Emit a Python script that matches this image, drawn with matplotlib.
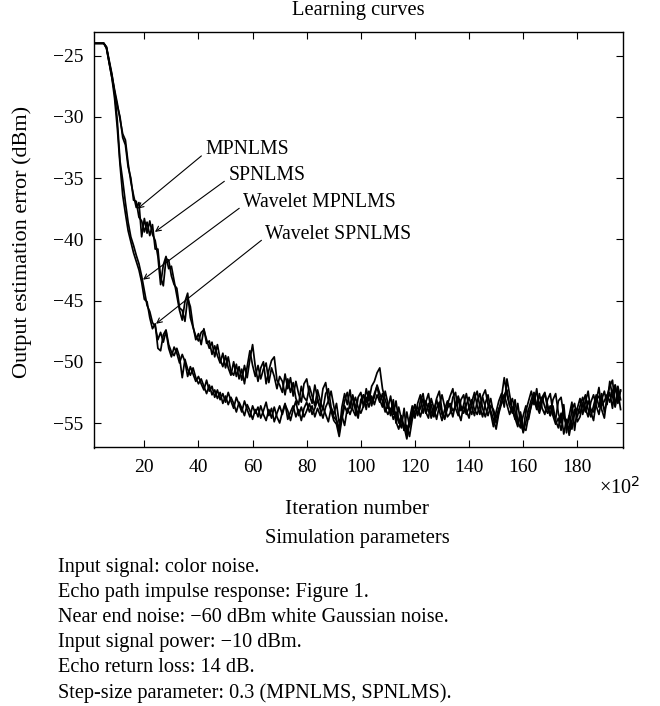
import numpy as np
import matplotlib.pyplot as plt

plt.rcParams['font.family'] = ['Liberation Serif', 'DejaVu Serif']
plt.rcParams['font.size'] = 14

# iteration index (x 10^2)
iters = np.arange(1, 197)

"""Learning curves read off the figure, one value per 100 iterations"""
mpnlms = [
    -24, -24, -24, -24, -24, -24.3, -25.5, -26.6, -27.8, -28.9,
    -30.2, -31.4, -31.9, -33.8, -35.3, -36.4, -37.4, -37.0, -39.8, -38.3,
    -39.5, -38.5, -39.6, -40.1, -41.4, -43.7, -42.1, -41.4, -42.4, -42.2,
    -43.4, -44.6, -45.8, -46.6, -45.1, -44.4, -46.4, -47.2, -47.9, -48.3,
    -47.6, -47.4, -48.2, -48.9, -48.4, -49.6, -48.6, -49.8, -50.4, -49.5,
    -50.5, -51.1, -50.0, -51.2, -50.4, -51.5, -50.3, -51.3, -49.8, -48.6,
    -50.4, -51.6, -50.5, -50.0, -51.8, -50.7, -49.9, -49.6, -51.5, -51.9,
    -52.5, -51.0, -52.2, -51.3, -52.8, -51.6, -52.6, -53.3, -51.8, -51.4,
    -52.7, -53.4, -51.9, -53.0, -53.8, -52.2, -51.7, -53.2, -52.4, -53.6,
    -54.7, -55.8, -53.7, -52.6, -53.5, -52.3, -53.9, -54.4, -52.9, -52.5,
    -53.7, -52.2, -53.2, -52.0, -51.6, -50.9, -50.5, -52.2, -53.1, -53.8,
    -52.8, -54.3, -53.2, -54.8, -55.4, -53.8, -56.0, -54.7, -53.6, -54.6,
    -53.4, -52.7, -54.2, -53.3, -52.6, -54.1, -54.5, -53.0, -52.4, -54.0,
    -54.7, -53.5, -52.8, -52.2, -53.8, -54.4, -53.1, -52.7, -54.0, -54.6,
    -53.3, -52.5, -53.6, -54.3, -52.8, -52.3, -53.5, -54.2, -55.3, -54.1,
    -53.2, -52.6, -53.7, -51.4, -52.7, -53.9, -54.7, -53.4, -55.0, -55.7,
    -54.0, -53.2, -52.4, -53.5, -52.2, -54.0, -52.9, -52.5, -53.8, -54.4,
    -53.1, -52.6, -54.2, -55.0, -53.5, -55.8, -54.4, -53.3, -55.6, -53.8,
    -53.0, -54.3, -53.3, -52.4, -54.1, -54.8, -53.2, -52.1, -53.9, -54.6,
    -52.8, -52.0, -51.5, -53.6, -52.4, -53.9,
]

spnlms = [
    -24, -24, -24, -24, -24, -24.4, -25.6, -26.8, -28.0, -29.1,
    -30.0, -31.7, -32.3, -34.1, -35.0, -36.8, -36.9, -38.2, -38.5, -39.4,
    -38.6, -39.7, -38.8, -40.8, -40.8, -43.1, -43.8, -41.6, -41.7, -43.0,
    -43.7, -44.0, -45.6, -45.8, -46.7, -44.8, -45.5, -47.1, -48.2, -47.7,
    -48.6, -47.3, -48.5, -48.3, -49.4, -48.7, -49.5, -50.1, -49.3, -50.5,
    -49.6, -50.8, -51.1, -50.2, -51.4, -50.6, -51.8, -50.4, -49.1, -50.3,
    -51.2, -50.3, -51.4, -50.6, -50.1, -51.7, -50.5, -51.2, -52.2, -51.2,
    -51.6, -52.7, -51.4, -52.5, -51.7, -53.0, -53.5, -52.0, -52.9, -53.2,
    -52.0, -52.8, -53.6, -52.3, -53.2, -53.9, -52.6, -52.2, -53.7, -54.3,
    -53.4, -55.0, -54.4, -53.2, -52.5, -53.8, -52.7, -54.0, -54.6, -53.1,
    -52.7, -53.9, -52.4, -53.6, -52.6, -52.0, -53.1, -53.7, -52.4, -53.4,
    -54.2, -53.1, -55.0, -53.7, -54.7, -55.6, -54.1, -55.3, -54.4, -53.5,
    -54.4, -53.2, -52.6, -54.1, -54.6, -53.0, -53.8, -54.7, -53.6, -52.7,
    -53.7, -54.5, -54.2, -52.9, -52.5, -54.1, -54.8, -53.5, -52.6, -53.8,
    -54.3, -53.0, -52.4, -53.7, -54.5, -53.4, -52.7, -54.0, -54.7, -55.5,
    -54.2, -53.4, -52.7, -52.3, -53.6, -54.2, -53.1, -54.9, -55.4, -54.4,
    -53.6, -54.7, -53.5, -52.7, -53.7, -52.6, -53.8, -54.3, -53.1, -52.6,
    -54.1, -54.7, -53.2, -52.9, -54.4, -55.1, -55.5, -53.9, -53.4, -54.9,
    -54.5, -53.4, -52.7, -53.9, -54.5, -53.6, -52.7, -53.7, -52.6, -54.1,
    -53.2, -52.5, -53.8, -51.9, -53.4, -52.3,
]

wav_mpnlms = [
    -24, -24, -24, -24, -24, -24.3, -25.4, -26.5, -28.0, -30.3,
    -33.6, -35.2, -37.0, -38.6, -39.8, -40.5, -41.3, -42.0, -43.0, -44.2,
    -45.4, -45.9, -46.8, -47.1, -48.2, -47.6, -48.4, -47.5, -48.9, -49.6,
    -48.8, -49.3, -50.1, -49.4, -50.0, -51.2, -50.4, -51.0, -51.6, -51.2,
    -51.8, -52.3, -51.5, -52.4, -52.0, -52.9, -52.3, -53.1, -52.6, -53.3,
    -52.5, -53.2, -53.8, -52.9, -53.5, -54.1, -53.2, -53.9, -54.5, -53.6,
    -54.2, -53.7, -54.6, -54.0, -53.3, -54.4, -53.8, -54.9, -54.2, -53.6,
    -54.3, -53.5, -54.0, -54.8, -53.9, -53.2, -54.4, -53.7, -54.5, -54.0,
    -53.4, -54.3, -53.8, -53.1, -53.9, -54.6, -53.7, -53.2, -54.0, -54.8,
    -55.1, -56.1, -54.7, -53.6, -54.2, -53.5, -52.8, -53.6, -54.3, -53.4,
    -52.7, -53.3, -52.5, -53.4, -52.9, -51.9, -52.6, -53.2, -54.1, -53.5,
    -54.4, -53.6, -54.9, -55.5, -54.6, -55.3, -56.3, -55.0, -54.1, -53.5,
    -54.3, -53.8, -53.0, -54.2, -53.4, -54.6, -53.9, -53.1, -54.0, -54.8,
    -53.9, -53.2, -53.7, -54.5, -53.4, -52.8, -53.6, -54.2, -53.5, -52.9,
    -53.7, -54.4, -53.2, -52.6, -53.8, -54.5, -53.7, -53.0, -54.2, -55.0,
    -54.1, -52.9, -51.3, -52.7, -53.6, -53.0, -54.1, -55.0, -54.3, -55.8,
    -54.9, -53.9, -53.1, -52.5, -53.6, -54.2, -53.3, -52.6, -53.5, -54.4,
    -53.6, -54.8, -55.4, -54.2, -55.9, -54.7, -56.0, -54.8, -53.9, -54.5,
    -53.6, -52.9, -53.8, -54.5, -53.3, -52.7, -53.6, -54.3, -53.1, -52.4,
    -53.5, -51.6, -52.8, -53.7, -52.0, -53.1,
]

wav_spnlms = [
    -24, -24, -24, -24, -24, -24.4, -25.6, -26.8, -28.5, -30.9,
    -33.9, -36.4, -37.9, -39.3, -40.2, -41.1, -41.8, -42.5, -43.5, -44.9,
    -45.1, -46.4, -47.3, -46.9, -48.9, -49.1, -47.8, -47.4, -48.6, -49.2,
    -49.5, -48.9, -49.6, -51.3, -49.8, -50.6, -51.1, -50.5, -51.3, -51.8,
    -51.4, -52.0, -52.6, -51.9, -52.7, -52.3, -53.0, -52.5, -53.4, -52.8,
    -53.5, -52.9, -53.4, -54.1, -53.3, -53.8, -54.4, -53.5, -54.0, -54.7,
    -53.9, -54.5, -53.6, -54.3, -54.8, -53.9, -54.6, -53.7, -54.5, -55.0,
    -54.1, -53.4, -54.7, -54.1, -53.6, -54.5, -53.9, -54.8, -53.8, -53.3,
    -54.1, -53.6, -54.5, -53.8, -54.4, -53.7, -54.3, -54.9, -53.8, -54.5,
    -54.8, -55.4, -54.4, -55.2, -53.8, -54.3, -53.6, -52.9, -53.7, -54.2,
    -53.6, -52.9, -53.7, -52.8, -53.5, -52.7, -53.3, -52.6, -53.8, -54.3,
    -53.8, -54.7, -54.1, -55.0, -54.4, -55.6, -55.2, -56.1, -54.7, -54.0,
    -53.7, -54.5, -53.6, -53.2, -54.1, -53.5, -54.4, -53.8, -53.3, -54.3,
    -54.6, -53.8, -53.4, -54.0, -53.7, -53.1, -54.0, -53.6, -54.3, -53.7,
    -53.1, -53.9, -54.3, -53.5, -52.9, -53.7, -54.4, -53.6, -53.9, -54.6,
    -53.8, -53.4, -52.7, -53.5, -54.3, -53.7, -54.6, -55.3, -54.1, -55.4,
    -55.6, -54.4, -53.6, -53.0, -53.9, -53.4, -52.9, -53.7, -54.2, -53.6,
    -54.4, -55.1, -54.6, -55.6, -54.3, -55.2, -54.4, -55.5, -54.2, -53.8,
    -54.2, -53.4, -54.1, -53.2, -53.9, -54.1, -53.1, -52.8, -53.6, -53.2,
    -52.7, -53.3, -52.4, -51.9, -53.0, -52.4,
]

"""Label text, arrow tip, text position"""
labels = ["MPNLMS", "SPNLMS", "Wavelet MPNLMS", "Wavelet SPNLMS"]
label_tips = [(17.5, -37.5), (23.9, -39.4), (19.5, -43.3), (24.3, -46.9)]
label_pos = [(42.5, -32.7), (51.0, -34.8), (56.5, -37.0), (64.7, -39.6)]

params = [
    "Input signal: color noise.",
    "Echo path impulse response: Figure 1.",
    "Near end noise: \u221260 dBm white Gaussian noise.",
    "Input signal power: \u221210 dBm.",
    "Echo return loss: 14 dB.",
    "Step-size parameter: 0.3 (MPNLMS, SPNLMS).",
]

W, H = 660, 706
fig = plt.figure(figsize=(W/100, H/100), dpi=100)
ax = fig.add_axes([94.3/W, 1-447.5/H, 529/W, 415.2/H])

for curve in [mpnlms, spnlms, wav_mpnlms, wav_spnlms]:
    ax.plot(iters, curve, color='black', lw=1.25)

ax.set_xlim(1.5, 197)
ax.set_ylim(-57, -23.1)
ax.set_xticks(np.arange(20, 181, 20))
ax.set_yticks(np.arange(-55, -24, 5))
ax.tick_params(direction='in', top=True, right=True, length=5, width=0.8,
               labelsize=14, pad=8)
for sp in ax.spines.values():
    sp.set_linewidth(1.0)

for lab, tip, pos in zip(labels, label_tips, label_pos):
    ax.annotate(lab, xy=tip, xytext=pos, ha='left', va='center', fontsize=14.2,
                arrowprops=dict(arrowstyle='->', color='black', lw=0.8,
                                shrinkA=1, shrinkB=0, mutation_scale=9,
                                relpos=(0, 0.35)))

fig.text(358.8/W, 1-11/H, "Learning curves", ha='center', va='center', fontsize=14.8)
fig.text(22/W, 1-242/H, "Output estimation error (dBm)", rotation=90,
         ha='center', va='center', fontsize=16)
fig.text(357/W, 1-509/H, "Iteration number", ha='center', va='center', fontsize=15.5)
fig.text(620/W, 1-488/H, "\u00d710$^2$", ha='center', va='center', fontsize=14.5)

fig.text(357.5/W, 1-539/H, "Simulation parameters", ha='center', va='center', fontsize=14.8)
line_y = [567.5, 592.5, 618, 643, 668, 693]
for txt, yy in zip(params, line_y):
    fig.text(58/W, 1-yy/H, txt, ha='left', va='center', fontsize=14.6)

plt.savefig('out.png', dpi=100)
